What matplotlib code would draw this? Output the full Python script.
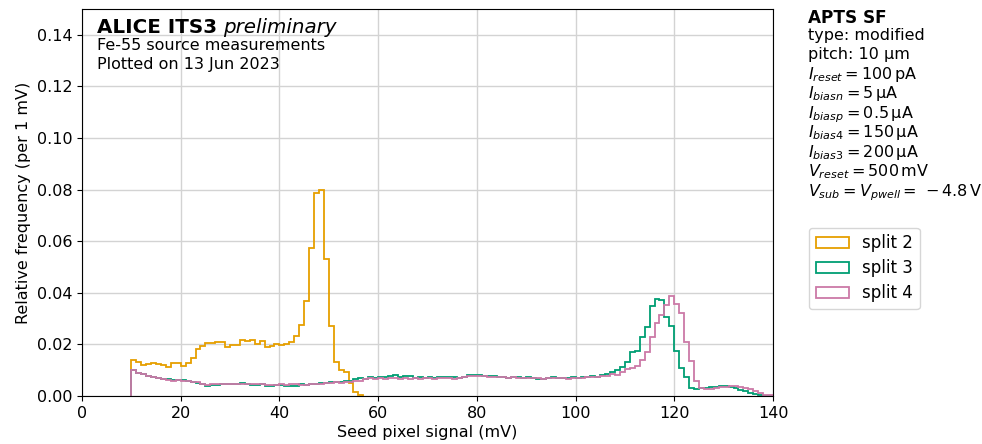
import numpy as np
import matplotlib.pyplot as plt

# relative frequency per 1 mV bin, first bin starts at 10 mV
bin_start = 10
split2 = [0.0138, 0.0133, 0.0122, 0.0124, 0.0128, 0.0124, 0.0120, 0.0114, 0.0129, 0.0127,
          0.0117, 0.0128, 0.0146, 0.0182, 0.0192, 0.0204, 0.0205, 0.0210, 0.0208, 0.0191,
          0.0197, 0.0197, 0.0217, 0.0213, 0.0218, 0.0203, 0.0214, 0.0188, 0.0195, 0.0200,
          0.0196, 0.0201, 0.0208, 0.0231, 0.0274, 0.0370, 0.0573, 0.0785, 0.0800, 0.0532,
          0.0272, 0.0131, 0.0100, 0.0094, 0.0050, 0.0016, 0.0004]
split3 = [0.0100, 0.0090, 0.0087, 0.0078, 0.0075, 0.0068, 0.0065, 0.0064, 0.0062, 0.0062,
          0.0061, 0.0058, 0.0055, 0.0050, 0.0046, 0.0040, 0.0042, 0.0044, 0.0045, 0.0045,
          0.0046, 0.0045, 0.0051, 0.0048, 0.0044, 0.0044, 0.0046, 0.0040, 0.0039, 0.0042,
          0.0044, 0.0040, 0.0038, 0.0038, 0.0045, 0.0042, 0.0046, 0.0048, 0.0050, 0.0052,
          0.0054, 0.0055, 0.0056, 0.0057, 0.0060, 0.0064, 0.0068, 0.0066, 0.0072, 0.0068,
          0.0074, 0.0075, 0.0078, 0.0080, 0.0072, 0.0079, 0.0077, 0.0070, 0.0074, 0.0071,
          0.0075, 0.0069, 0.0074, 0.0074, 0.0073, 0.0075, 0.0071, 0.0073, 0.0081, 0.0083,
          0.0080, 0.0078, 0.0078, 0.0077, 0.0074, 0.0074, 0.0068, 0.0072, 0.0075, 0.0071,
          0.0073, 0.0071, 0.0066, 0.0064, 0.0071, 0.0073, 0.0069, 0.0071, 0.0069, 0.0072,
          0.0071, 0.0073, 0.0073, 0.0077, 0.0073, 0.0082, 0.0086, 0.0094, 0.0099, 0.0112,
          0.0132, 0.0170, 0.0174, 0.0229, 0.0269, 0.0348, 0.0375, 0.0373, 0.0306, 0.0271,
          0.0174, 0.0110, 0.0072, 0.0032, 0.0028, 0.0030, 0.0030, 0.0033, 0.0036, 0.0038,
          0.0038, 0.0036, 0.0030, 0.0024, 0.0018, 0.0010, 0.0006, 0.0002, 0.0001, 0.0000]
split4 = [0.0102, 0.0090, 0.0086, 0.0077, 0.0073, 0.0068, 0.0064, 0.0062, 0.0060, 0.0061,
          0.0060, 0.0059, 0.0055, 0.0054, 0.0047, 0.0043, 0.0045, 0.0045, 0.0047, 0.0046,
          0.0047, 0.0046, 0.0046, 0.0048, 0.0045, 0.0047, 0.0045, 0.0043, 0.0043, 0.0044,
          0.0045, 0.0044, 0.0045, 0.0045, 0.0043, 0.0044, 0.0046, 0.0048, 0.0048, 0.0050,
          0.0052, 0.0053, 0.0052, 0.0054, 0.0055, 0.0058, 0.0060, 0.0064, 0.0070, 0.0065,
          0.0068, 0.0066, 0.0070, 0.0068, 0.0066, 0.0070, 0.0065, 0.0068, 0.0066, 0.0070,
          0.0068, 0.0066, 0.0070, 0.0068, 0.0070, 0.0066, 0.0068, 0.0072, 0.0078, 0.0078,
          0.0077, 0.0079, 0.0075, 0.0073, 0.0074, 0.0072, 0.0070, 0.0072, 0.0071, 0.0068,
          0.0070, 0.0069, 0.0068, 0.0066, 0.0068, 0.0070, 0.0068, 0.0070, 0.0066, 0.0070,
          0.0071, 0.0070, 0.0074, 0.0072, 0.0075, 0.0077, 0.0077, 0.0086, 0.0083, 0.0094,
          0.0103, 0.0110, 0.0116, 0.0138, 0.0170, 0.0230, 0.0284, 0.0314, 0.0353, 0.0388,
          0.0357, 0.0320, 0.0210, 0.0136, 0.0060, 0.0030, 0.0028, 0.0028, 0.0030, 0.0033,
          0.0036, 0.0038, 0.0038, 0.0036, 0.0032, 0.0026, 0.0018, 0.0010, 0.0005, 0.0002]

labels = ['split 2', 'split 3', 'split 4']
colors = ['#E69F00', '#009E73', '#CC79A7']

info_lines = [
    'type: modified',
    'pitch: 10 µm',
    r'$I_{reset} = 100\,$pA',
    r'$I_{biasn} = 5\,$µA',
    r'$I_{biasp} = 0.5\,$µA',
    r'$I_{bias4} = 150\,$µA',
    r'$I_{bias3} = 200\,$µA',
    r'$V_{reset} = 500\,$mV',
    r'$V_{sub} = V_{pwell} = \,-4.8\,$V',
]

fig = plt.figure(figsize=(9.82, 4.44), dpi=100)
ax = fig.add_axes([82/982, 1 - 396/444, (773 - 82)/982, (396 - 9)/444])

for vals, lab, col in zip([split2, split3, split4], labels, colors):
    edges = np.arange(bin_start, bin_start + len(vals) + 1)
    centers = edges[:-1] + 0.5
    ax.hist(centers, bins=edges, weights=vals, histtype='step', color=col, lw=1.3, label=lab)

ax.set_xlim(0, 140)
ax.set_ylim(0, 0.15)
ax.set_xticks(np.arange(0, 141, 20))
ax.set_yticks(np.arange(0, 0.141, 0.02))
ax.grid(True, color='#d3d3d3', lw=1)
ax.set_axisbelow(True)
ax.tick_params(labelsize=11.5)
ax.set_xlabel('Seed pixel signal (mV)', fontsize=11.5, labelpad=3)
ax.set_ylabel('Relative frequency (per 1 mV)', fontsize=11.5)

t1 = ax.text(0.022, 0.937, 'ALICE ITS3', transform=ax.transAxes, fontsize=14.3,
             fontweight='bold', va='baseline')
ax.annotate('preliminary', xy=(1, 0), xycoords=t1, xytext=(4, 0), textcoords='offset points',
            fontsize=14.3, style='italic', va='bottom')
ax.text(0.022, 0.893, 'Fe-55 source measurements', transform=ax.transAxes, fontsize=11.5,
        va='baseline')
ax.text(0.022, 0.845, 'Plotted on 13 Jun 2023', transform=ax.transAxes, fontsize=11.5,
        va='baseline')

fig.text(808/982, 1 - 23/444, 'APTS SF', fontsize=12.2, fontweight='bold', va='baseline')
baselines = [40, 59, 79, 98, 118, 137, 157, 176, 196]
for line, yb in zip(info_lines, baselines):
    fig.text(808/982, 1 - yb/444, line, fontsize=11.5, va='baseline')

ax.legend(loc='upper left', bbox_to_anchor=(1.052, 0.435), borderaxespad=0, fontsize=12,
          handlelength=2.0, labelspacing=0.42)

fig.savefig('out.png', dpi=100)
